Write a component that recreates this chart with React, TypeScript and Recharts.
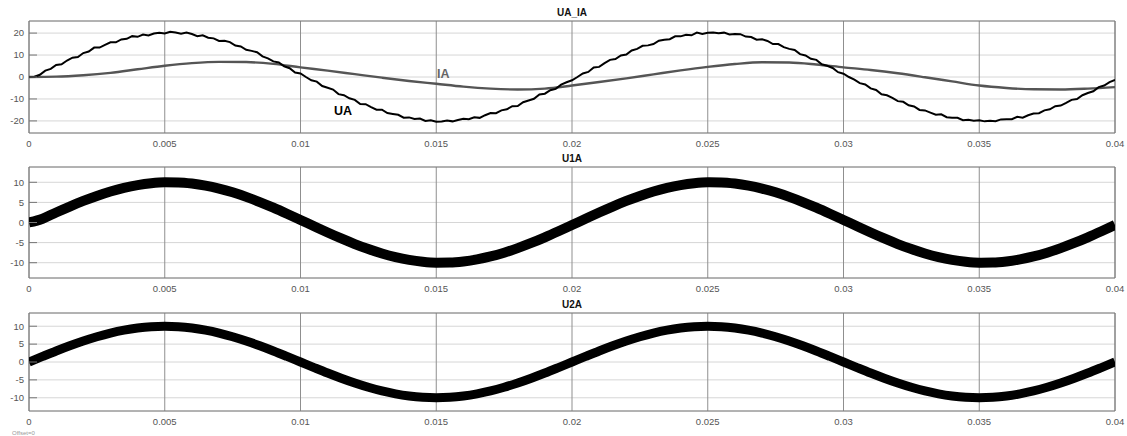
import React from "react";
import {
  LineChart,
  Line,
  XAxis,
  YAxis,
  CartesianGrid,
  ReferenceArea,
} from "recharts";

// ---------- data ----------
const xTicks = [0, 0.005, 0.01, 0.015, 0.02, 0.025, 0.03, 0.035, 0.04];
const yTicksTop = [-20, -10, 0, 10, 20];
const yTicksLow = [-10, -5, 0, 5, 10];

// UA sampled every 0.2 ms (noisy measured voltage)
const UA_STEP = 0.0002;
const uaValues = [
  0,
  0.1, 1.0, 2.9, 3.7, 5.5, 5.8, 7.5, 8.8, 9.1, 10.9, 11.6, 13.4, 13.4, 14.6, 15.8, 15.8, 17.1, 17.4, 18.6, 18.3, 19.3, 18.9, 19.8, 20.2, 19.8, 20.6,
  20.3, 19.7, 20.2, 19.6, 18.6, 19.0, 17.9, 17.6, 16.4, 16.5, 15.9, 14.3, 13.9, 12.4, 11.9, 11.3, 9.4, 8.5, 7.1, 6.6, 4.9, 4.0, 2.0, 1.6, 0,
  -1.5, -2.1, -4.1, -4.9, -5.7, -7.8, -8.3, -9.7, -10.4, -12.3, -12.4, -13.7, -14.9, -14.9, -16.4, -16.8, -17.2, -18.5, -18.4, -19.1, -18.9, -20.0, -19.7, -20.4, -20.3,
  -19.8, -20.2, -19.6, -19.0, -19.2, -18.3, -18.6, -17.4, -16.4, -16.5, -15.2, -14.7, -13.3, -13.2, -11.5, -10.7, -9.9, -8.0, -7.6, -6.0, -5.4, -3.5, -2.4, -1.5, 0,
  1.6, 2.3, 4.3, 4.6, 6.3, 7.8, 8.2, 9.8, 10.2, 12.1, 12.8, 14.2, 14.4, 15.0, 16.5, 17.0, 17.2, 18.5, 18.5, 19.2, 19.0, 20.2, 19.6, 20.1, 20.3,
  19.9, 20.2, 19.4, 19.6, 19.5, 18.4, 18.2, 17.0, 17.2, 16.4, 15.0, 15.0, 13.6, 12.8, 12.3, 10.4, 9.8, 8.3, 7.8, 5.8, 5.1, 4.1, 2.2, 1.5, 0,
  -1.2, -2.8, -3.4, -5.2, -5.9, -7.9, -8.3, -9.5, -11.0, -11.3, -12.9, -13.4, -15.0, -15.2, -16.2, -17.2, -17.0, -18.3, -18.5, -18.6, -19.7, -19.5, -19.9, -19.7, -20.2,
  -19.9, -20.1, -19.3, -19.2, -19.2, -18.1, -18.5, -17.4, -16.6, -16.5, -15.2, -14.7, -13.3, -13.0, -11.8, -10.4, -10.0, -8.3, -7.3, -6.5, -4.6, -3.9, -2.3, -1.3,
];

// IA sampled every 1 ms (smooth current)
const IA_STEP = 0.001;
const iaValues = [
  0, 0.15, 0.8, 1.9, 3.5, 5.1, 6.3, 6.9, 6.8, 6.0,
  4.4, 2.9, 1.3, -0.3, -1.8, -3.1, -4.4, -5.3, -5.7, -5.3,
  -3.9, -2.3, -0.6, 1.2, 3.0, 4.6, 5.9, 6.7, 6.6, 5.7,
  4.4, 3.2, 1.7, -0.1, -2.0, -3.9, -5.0, -5.6, -5.7, -5.3,
  -4.6,
];

// U1A and U2A sampled every 0.5 ms
const U_STEP = 0.0005;
const u1aValues = [
  0,
  0.94, 2.49, 3.97, 5.36, 6.61, 7.71, 8.61, 9.3, 9.76, 9.98, 9.96, 9.69, 9.18, 8.44, 7.5, 6.37, 5.09, 3.68, 2.18, 0.63,
  -0.94, -2.49, -3.97, -5.36, -6.61, -7.71, -8.61, -9.3, -9.76, -9.98, -9.96, -9.69, -9.18, -8.44, -7.5, -6.37, -5.09, -3.68, -2.18, -0.63,
  0.94, 2.49, 3.97, 5.36, 6.61, 7.71, 8.61, 9.3, 9.76, 9.98, 9.96, 9.69, 9.18, 8.44, 7.5, 6.37, 5.09, 3.68, 2.18, 0.63,
  -0.94, -2.49, -3.97, -5.36, -6.61, -7.71, -8.61, -9.3, -9.76, -9.98, -9.96, -9.69, -9.18, -8.44, -7.5, -6.37, -5.09, -3.68, -2.18, -0.63,
];
const u2aValues = [
  0,
  1.56, 3.09, 4.54, 5.88, 7.07, 8.09, 8.91, 9.51, 9.88, 10, 9.88, 9.51, 8.91, 8.09, 7.07, 5.88, 4.54, 3.09, 1.56, 0,
  -1.56, -3.09, -4.54, -5.88, -7.07, -8.09, -8.91, -9.51, -9.88, -10, -9.88, -9.51, -8.91, -8.09, -7.07, -5.88, -4.54, -3.09, -1.56, 0,
  1.56, 3.09, 4.54, 5.88, 7.07, 8.09, 8.91, 9.51, 9.88, 10, 9.88, 9.51, 8.91, 8.09, 7.07, 5.88, 4.54, 3.09, 1.56, 0,
  -1.56, -3.09, -4.54, -5.88, -7.07, -8.09, -8.91, -9.51, -9.88, -10, -9.88, -9.51, -8.91, -8.09, -7.07, -5.88, -4.54, -3.09, -1.56, 0,
];

const toRows = (vals: number[], step: number) =>
  vals.map((v, i) => ({ t: +(i * step).toFixed(5), v }));

const uaData = toRows(uaValues, UA_STEP);
const iaData = toRows(iaValues, IA_STEP);
const u1aData = toRows(u1aValues, U_STEP);
const u2aData = toRows(u2aValues, U_STEP);

// ---------- styling ----------
const FONT = '"Liberation Sans", Arial, Helvetica, sans-serif';
const W = 1127;
const ML = 29; // plot left
const MR = 12; // right margin
const tickStyle = { fontSize: 9.5, fill: "#555", fontFamily: FONT };

type PanelProps = {
  top: number;
  plotTop: number;
  plotHeight: number;
  domain: [number, number];
  yTicks: number[];
  title: string;
  children: React.ReactNode;
};

function Panel({ top, plotTop, plotHeight, domain, yTicks, title, children }: PanelProps) {
  const marginTop = plotTop - top;
  const height = marginTop + plotHeight + 20;
  return (
    <>
      <div
        style={{
          position: "absolute",
          left: ML,
          width: W - ML - MR,
          top: plotTop - 14,
          textAlign: "center",
          fontFamily: FONT,
          fontWeight: "bold",
          fontSize: 10,
          lineHeight: "12px",
          color: "#111",
        }}
      >
        {title}
      </div>
      <div style={{ position: "absolute", left: 0, top }}>
        <LineChart
          width={W}
          height={height}
          margin={{ top: marginTop, right: MR, bottom: 0, left: 0 }}
        >
          <CartesianGrid horizontal vertical={false} stroke="#d6d6d6" />
          <CartesianGrid horizontal={false} vertical stroke="#8f8f8f" />
          <XAxis
            dataKey="t"
            type="number"
            domain={[0, 0.04]}
            ticks={xTicks}
            allowDataOverflow
            axisLine={false}
            tickLine={false}
            tickSize={0}
            tickMargin={7}
            height={20}
            tick={tickStyle}
            interval={0}
          />
          <YAxis
            type="number"
            domain={domain}
            ticks={yTicks}
            allowDataOverflow
            width={ML}
            axisLine={false}
            tickSize={-8}
            tickMargin={13}
            tickLine={{ stroke: "#777" }}
            tick={tickStyle}
            interval={0}
          />
          <YAxis
            yAxisId="r"
            orientation="right"
            type="number"
            domain={domain}
            ticks={yTicks}
            allowDataOverflow
            width={0}
            axisLine={false}
            tickSize={-8}
            tickLine={{ stroke: "#777" }}
            tick={false}
            interval={0}
          />
          <ReferenceArea
            x1={0}
            x2={0.04}
            y1={domain[0]}
            y2={domain[1]}
            fill="none"
            stroke="#7a7a7a"
            strokeWidth={1}
          />
          {children}
        </LineChart>
      </div>
    </>
  );
}

export default function App() {
  return (
    <div
      style={{
        position: "absolute",
        left: 0,
        top: 0,
        width: W,
        height: 436,
        background: "#fff",
        overflow: "hidden",
        fontFamily: FONT,
      }}
    >
      <Panel top={0} plotTop={21} plotHeight={112} domain={[-25.5, 25.5]} yTicks={yTicksTop} title="UA_IA">
        <Line
          data={iaData}
          dataKey="v"
          type="monotone"
          stroke="#555555"
          strokeWidth={2.4}
          dot={false}
          isAnimationActive={false}
        />
        <Line
          data={uaData}
          dataKey="v"
          type="linear"
          stroke="#000"
          strokeWidth={2}
          dot={false}
          isAnimationActive={false}
        />
      </Panel>
      <Panel top={147} plotTop={167} plotHeight={111} domain={[-13.8, 13.8]} yTicks={yTicksLow} title="U1A">
        <Line
          data={u1aData}
          dataKey="v"
          type="monotone"
          stroke="#000"
          strokeWidth={10}
          dot={false}
          isAnimationActive={false}
        />
      </Panel>
      <Panel top={292} plotTop={313} plotHeight={98} domain={[-13.7, 13.7]} yTicks={yTicksLow} title="U2A">
        <Line
          data={u2aData}
          dataKey="v"
          type="monotone"
          stroke="#000"
          strokeWidth={9}
          dot={false}
          isAnimationActive={false}
        />
      </Panel>
      <div
        style={{
          position: "absolute",
          left: 334,
          top: 104,
          fontSize: 12.5,
          fontWeight: "bold",
          color: "#000",
          lineHeight: "14px",
        }}
      >
        UA
      </div>
      <div
        style={{
          position: "absolute",
          left: 437,
          top: 67,
          fontSize: 12.5,
          fontWeight: "bold",
          color: "#666",
          lineHeight: "14px",
        }}
      >
        IA
      </div>
      <div
        style={{
          position: "absolute",
          left: 12,
          top: 430,
          fontSize: 6,
          color: "#999",
          lineHeight: "7px",
        }}
      >
        Offset=0
      </div>
    </div>
  );
}
